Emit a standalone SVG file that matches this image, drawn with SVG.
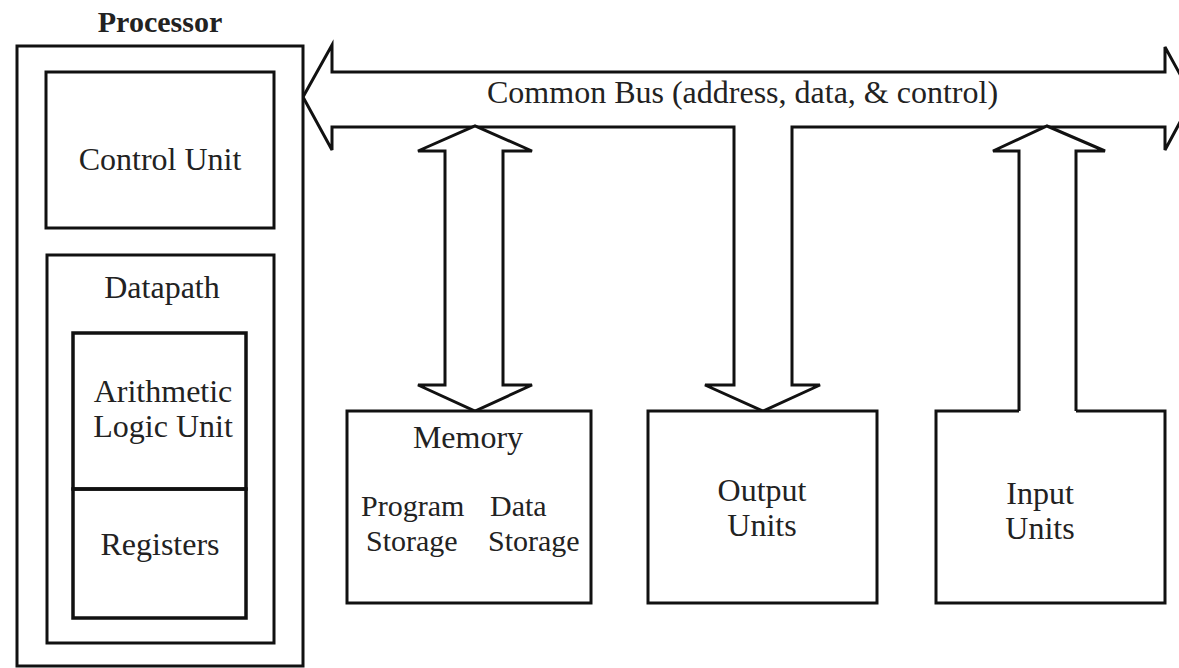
<svg xmlns="http://www.w3.org/2000/svg" width="1179" height="668" viewBox="0 0 1179 668">
<style>
.box{fill:#fff;stroke:#111;stroke-width:3;stroke-linejoin:miter}
.thick{fill:none;stroke:#111;stroke-width:3.5}
.conn{fill:#fff;stroke:#111;stroke-width:3;stroke-linejoin:miter}
.t{font-family:"Liberation Serif","Times New Roman",serif;font-size:32px;fill:#222}
.s{font-size:30px}
.c{text-anchor:middle}
.b{font-weight:bold;font-size:30px}
</style>
<rect width="1179" height="668" fill="#fff"/>
<g id="connectors">
  <path id="bus" class="conn" d="M303,97 L332,45 V72 H1165 V47 L1193,98 L1165,150 V127 H792 V385 H820 L763,411 L705,385 H734 V127 H332 V150 Z"/>
  <path id="mem-arrow" class="conn" d="M445,151 H418 L475,126 L532,151 H503 V385 H532 L475,411 L418,385 H445 Z"/>
  <path id="in-arrow" class="conn" d="M1019,411 V151 H993 L1047,126 L1105,151 H1076 V411"/>
  <text class="t" x="487" y="103">Common Bus (address, data, &amp; control)</text>
</g>
<g id="processor">
  <text class="t c b" x="160" y="32">Processor</text>
  <rect class="box" x="17" y="46" width="286" height="620"/>
</g>
<g id="control-unit">
  <rect class="box" x="46" y="72" width="228" height="156"/>
  <text class="t c" x="160" y="170">Control Unit</text>
</g>
<g id="datapath">
  <rect class="box" x="47" y="255" width="227" height="388"/>
  <text class="t c" x="162" y="298">Datapath</text>
</g>
<g id="alu">
  <rect class="thick" x="73" y="333" width="173" height="156"/>
  <text class="t c" x="163" y="402">Arithmetic</text>
  <text class="t c" x="163" y="437">Logic Unit</text>
</g>
<g id="registers">
  <rect class="thick" x="73" y="489" width="173" height="129"/>
  <text class="t c" x="160" y="555">Registers</text>
</g>
<g id="memory">
  <rect class="box" x="347" y="411" width="244" height="192"/>
  <text class="t c" x="468" y="448">Memory</text>
  <text class="t s" x="361" y="516">Program</text>
  <text class="t s" x="490" y="516">Data</text>
  <text class="t s" x="366" y="551">Storage</text>
  <text class="t s" x="488" y="551">Storage</text>
</g>
<g id="output-units">
  <rect class="box" x="648" y="411" width="229" height="192"/>
  <text class="t c" x="762" y="501">Output</text>
  <text class="t c" x="762" y="536">Units</text>
</g>
<g id="input-units">
  <path class="box" d="M1019,411 H936 V603 H1165 V411 H1076"/>
  <text class="t c" x="1040" y="504">Input</text>
  <text class="t c" x="1040" y="539">Units</text>
</g>
</svg>
